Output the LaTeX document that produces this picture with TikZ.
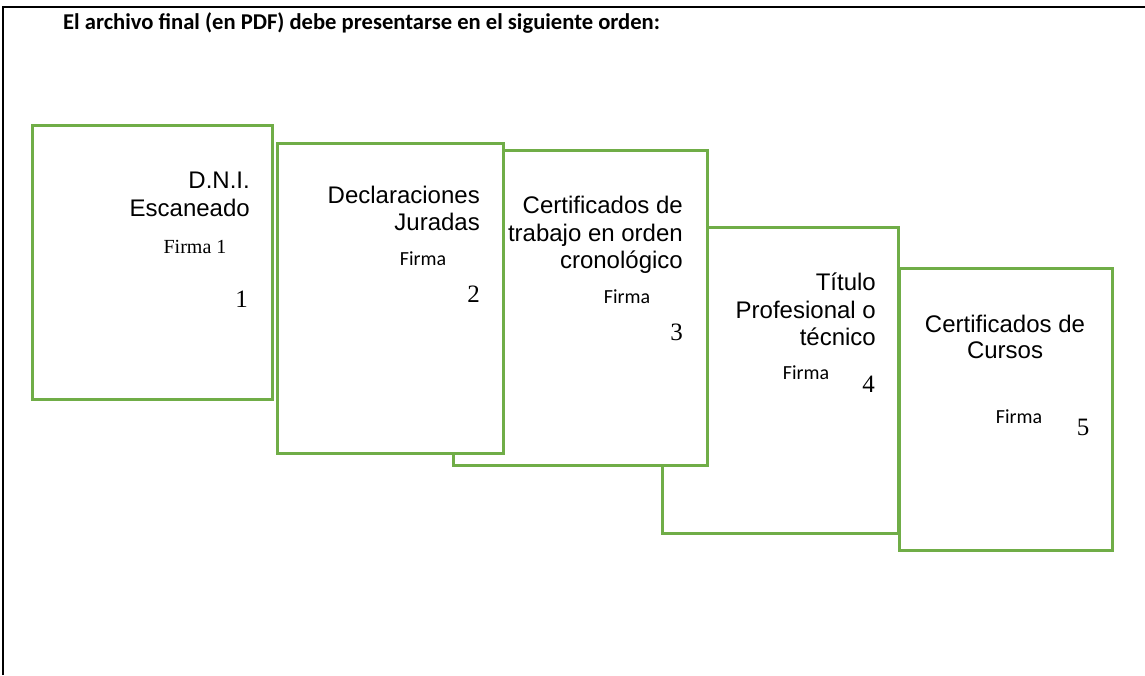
\documentclass[tikz,border=0pt]{standalone}
\usepackage{fontspec}
\setmainfont{Liberation Serif}
\newfontfamily\arialf{Liberation Sans}
\newfontfamily\calibf{Carlito}
\definecolor{boxgreen}{HTML}{70AD47}
\tikzset{
  docbox/.style={draw=boxgreen, line width=2.5pt, fill=white, rectangle, inner sep=0pt, anchor=north west},
  ttl/.style={inner sep=0pt, font=\arialf\fontsize{24}{28}\selectfont},
  ttlr/.style={ttl, anchor=base east},
  ttlc/.style={ttl, anchor=base},
  firma/.style={inner sep=0pt, anchor=base, font=\calibf\fontsize{20}{24}\selectfont},
  num/.style={inner sep=0pt, anchor=base east, font=\fontsize{25}{29}\selectfont},
  frameline/.style={draw=black, line width=2.5pt}
}
\begin{document}
\begin{tikzpicture}[x=1pt,y=-1pt]
\useasboundingbox (0,0) rectangle (1145,675);
\coordinate (fbl) at (3,675);
\coordinate (ftl) at (3,7);
\coordinate (ftr) at (1145,7);
\draw[frameline] (fbl) -- (ftl) -- (ftr);
\node[inner sep=0pt, anchor=base west, font=\calibf\bfseries\fontsize{22.6}{27}\selectfont] (title) at (63,29) {El archivo final (en PDF) debe presentarse en el siguiente orden:};
% boxes, back to front
\node[docbox, minimum width=236pt, minimum height=306pt] (b4) at (661,226) {};
\node[docbox, minimum width=254pt, minimum height=315pt] (b3) at (452,149) {};
\node[docbox, minimum width=226pt, minimum height=310pt] (b2) at (276,142) {};
\node[docbox, minimum width=240pt, minimum height=274pt] (b1) at (31,124) {};
\node[docbox, minimum width=213pt, minimum height=282pt] (b5) at (898,267) {};
% box 1
\node[ttlr] (t1a) at (250,188) {D.N.I.};
\node[ttlr] (t1b) at (250,216) {Escaneado};
\node[inner sep=0pt, anchor=base, font=\fontsize{20}{24}\selectfont] (f1) at (195,253) {Firma 1};
\node[num] (n1) at (248,307) {1};
% box 2
\node[ttlr] (t2a) at (480,203) {Declaraciones};
\node[ttlr] (t2b) at (480,230) {Juradas};
\node[firma] (f2) at (423,265) {Firma};
\node[num] (n2) at (480,302) {2};
% box 3
\node[ttlr] (t3a) at (683,213) {Certificados de};
\node[ttlr] (t3b) at (683,241) {trabajo en orden};
\node[ttlr] (t3c) at (683,268) {cronológico};
\node[firma] (f3) at (627,303) {Firma};
\node[num] (n3) at (683,340) {3};
% box 4
\node[ttlr] (t4a) at (876,290) {Título};
\node[ttlr] (t4b) at (876,318) {Profesional o};
\node[ttlr] (t4c) at (876,345) {técnico};
\node[firma] (f4) at (806,379) {Firma};
\node[num] (n4) at (875,392) {4};
% box 5
\node[ttlc] (t5a) at (1005,332) {Certificados de};
\node[ttlc] (t5b) at (1005,358) {Cursos};
\node[firma] (f5) at (1019,423) {Firma};
\node[num, anchor=base] (n5) at (1083,435) {5};
\end{tikzpicture}
\end{document}
